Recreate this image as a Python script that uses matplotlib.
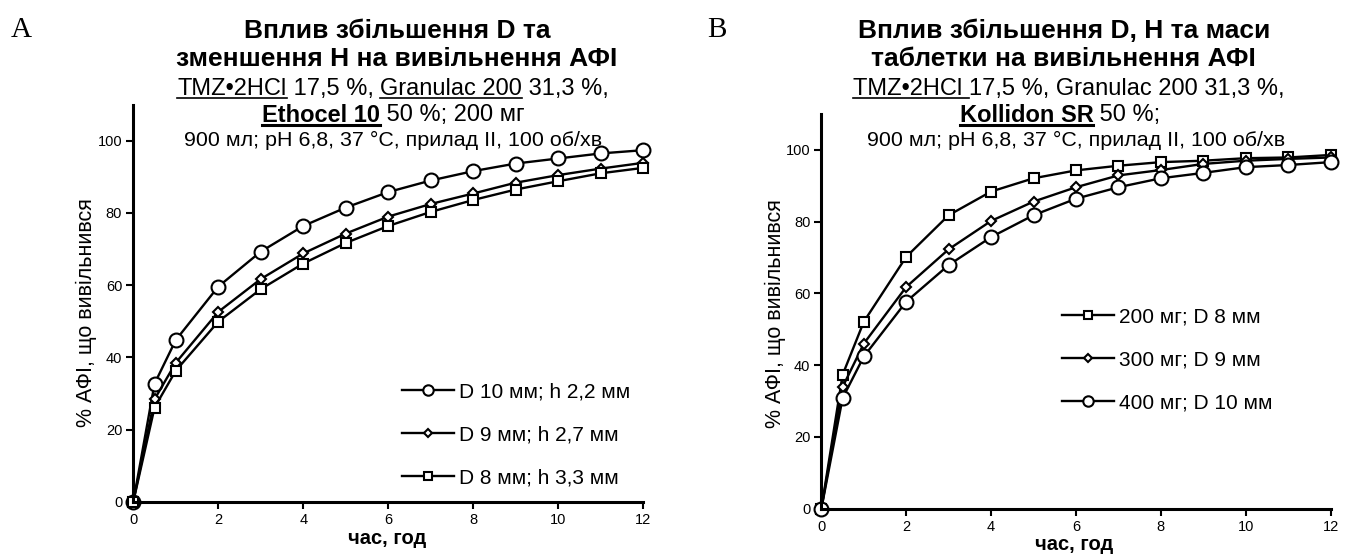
import matplotlib
matplotlib.use('Agg')
import matplotlib.pyplot as plt
from matplotlib.lines import Line2D

plt.rcParams['font.family'] = ['Liberation Sans', 'DejaVu Sans']

# time points, h
t = [0, 0.5, 1, 2, 3, 4, 5, 6, 7, 8, 9, 10, 11, 12]

# panel A: Ethocel 10
a_d10 = [0, 32.7, 44.8, 59.6, 69.3, 76.4, 81.5, 85.8, 89.0, 91.6, 93.7, 95.1, 96.5, 97.4]
a_d9 = [0, 28.4, 38.5, 52.6, 61.7, 68.8, 74.3, 79.0, 82.5, 85.4, 88.4, 90.5, 92.3, 93.9]
a_d8 = [0, 26.1, 36.3, 49.9, 58.9, 66.0, 71.7, 76.4, 80.3, 83.6, 86.5, 88.8, 91.0, 92.5]
a_labels = ['D 10 мм; h 2,2 мм', 'D 9 мм; h 2,7 мм', 'D 8 мм; h 3,3 мм']

# panel B: Kollidon SR
b_200 = [0, 37.3, 52.1, 70.2, 81.8, 88.4, 92.1, 94.3, 95.6, 96.6, 97.0, 97.7, 97.9, 98.6]
b_300 = [0, 33.9, 46.0, 61.8, 72.3, 80.2, 85.6, 89.6, 92.9, 94.4, 96.1, 97.0, 97.5, 97.9]
b_400 = [0, 30.8, 42.4, 57.7, 67.9, 75.7, 81.8, 86.4, 89.6, 92.1, 93.6, 95.2, 95.8, 96.6]
b_labels = ['200 мг; D 8 мм', '300 мг; D 9 мм', '400 мг; D 10 мм']

ylab = '% АФІ, що вивільнився'
xlab = 'час, год'
cond = '900 мл; pH 6,8, 37 °C, прилад II, 100 об/хв'

W, H = 1354, 554
fig = plt.figure(figsize=(W / 100, H / 100), dpi=100)


def fx(x):
    return x / W


def fy(y):
    return 1 - y / H


def style(ax):
    ax.set_xlim(0, 12)
    ax.set_ylim(0, 110)
    ax.set_xticks(range(0, 13, 2))
    ax.set_yticks(range(0, 101, 20))
    for s in ['top', 'right']:
        ax.spines[s].set_visible(False)
    for s in ['left', 'bottom']:
        ax.spines[s].set_linewidth(2.2)
    ax.tick_params(width=1.5, length=5, labelsize=10.5, pad=3)


def curve(ax, y, marker, ms, label):
    ax.plot(t, y, '-', marker=marker, color='black', mfc='white', mec='black',
            ms=ms, mew=1.5, lw=1.7, clip_on=False, label=label)


rend = fig.canvas.get_renderer()


def text_width(s, size, bold):
    w = 'bold' if bold else 'normal'
    t1 = fig.text(0, 0, s + '|', fontsize=size, fontweight=w)
    t2 = fig.text(0, 0, '|', fontsize=size, fontweight=w)
    width = t1.get_window_extent(rend).width - t2.get_window_extent(rend).width
    t1.remove()
    t2.remove()
    return width


def rich_line(xc, yb, parts, size):
    # parts: (text, bold, underline)
    widths = [text_width(p[0], size, p[1]) for p in parts]
    x = xc - sum(widths) / 2
    for (s, bold, under), w in zip(parts, widths):
        fig.text(fx(x), fy(yb), s, fontsize=size, ha='left', va='baseline',
                 fontweight='bold' if bold else 'normal')
        if under:
            uy = yb + size * 0.2
            fig.add_artist(Line2D([fx(x), fx(x + w)], [fy(uy), fy(uy)],
                                  color='black', lw=2.2 if bold else 1.2))
        x += w


leg_kw = dict(bbox_transform=fig.transFigure, frameon=False, fontsize=15,
              handlelength=2.5, handletextpad=0.25, labelspacing=1.15,
              borderpad=0, borderaxespad=0, markerscale=0.75, loc='center left')

# ---- panel A
axA = fig.add_axes([fx(133.3), fy(501.7), 510 / W, 397 / H])
style(axA)
curve(axA, a_d10, 'o', 10, a_labels[0])
curve(axA, a_d9, 'D', 5.5, a_labels[1])
curve(axA, a_d8, 's', 7.5, a_labels[2])
axA.legend(bbox_to_anchor=(fx(401.7), fy(435)), **leg_kw)

# ---- panel B
axB = fig.add_axes([fx(821.4), fy(508.5), 509.1 / W, 394.4 / H])
style(axB)
curve(axB, b_200, 's', 7.5, b_labels[0])
curve(axB, b_300, 'D', 5.5, b_labels[1])
curve(axB, b_400, 'o', 10, b_labels[2])
axB.legend(bbox_to_anchor=(fx(1062), fy(360)), **leg_kw)

# axis labels
for xc, yc in [(86, 313), (775, 314)]:
    fig.text(fx(xc), fy(yc), ylab, rotation=90, ha='center', va='center', fontsize=15.5)
for xc, yc in [(387, 539), (1074, 545)]:
    fig.text(fx(xc), fy(yc), xlab, ha='center', va='center', fontsize=14.5, fontweight='bold')

# panel letters
fig.text(fx(21), fy(30), 'A', family='Liberation Serif', fontsize=21, ha='center', va='center')
fig.text(fx(717), fy(30), 'B', family='Liberation Serif', fontsize=21, ha='center', va='center')

# titles
bs, rs, cs = 19, 17, 15.4
rich_line(397, 38, [('Вплив збільшення D та', True, False)], bs)
rich_line(397, 66.5, [('зменшення H на вивільнення АФІ', True, False)], bs)
rich_line(393, 95, [('TMZ•2HCl', False, True), (' 17,5 %, ', False, False),
                    ('Granulac 200', False, True), (' 31,3 %,', False, False)], rs)
rich_line(393, 121.5, [('Ethocel 10', True, True), (' 50 %; 200 мг', False, False)], rs)
rich_line(393, 146.5, [(cond, False, False)], cs)

rich_line(1064, 38, [('Вплив збільшення D, H та маси', True, False)], bs)
rich_line(1063, 66.5, [('таблетки на вивільнення АФІ', True, False)], bs)
rich_line(1069, 95, [('TMZ•2HCl ', False, True),
                     ('17,5 %, Granulac 200 31,3 %,', False, False)], rs)
rich_line(1060, 121.5, [('Kollidon SR', True, True), (' 50 %;', False, False)], rs)
rich_line(1076, 146.5, [(cond, False, False)], cs)

fig.savefig('out.png', dpi=100)
